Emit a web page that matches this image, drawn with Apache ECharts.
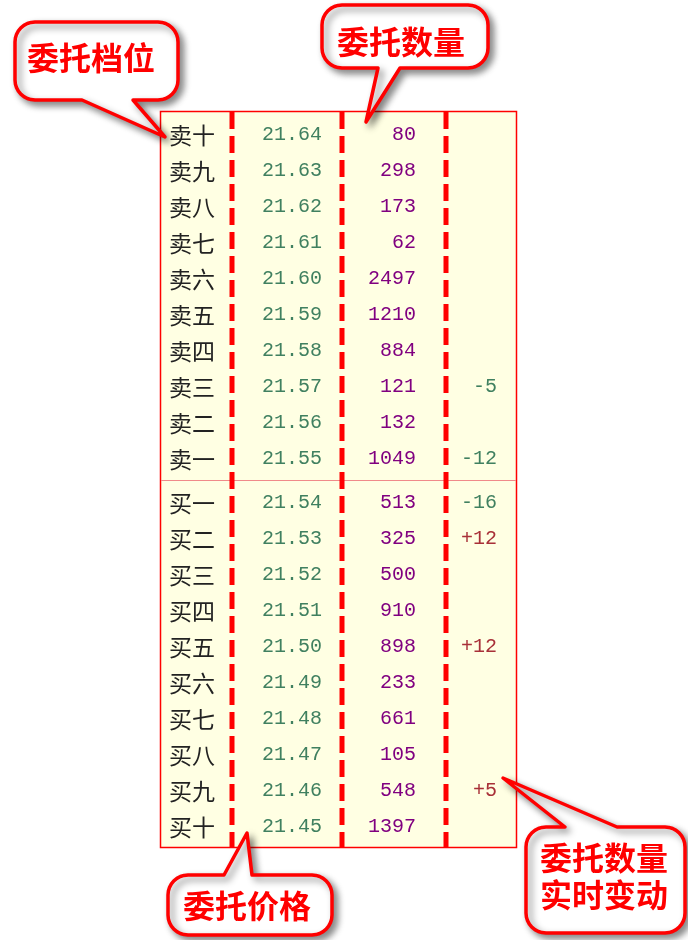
<!DOCTYPE html>
<html>
<head>
<meta charset="utf-8">
<script src="https://cdn.jsdelivr.net/npm/echarts@6/dist/echarts.min.js"></script>
<style>html,body{margin:0;padding:0;background:#fff}#c{width:688px;height:940px}</style>
</head>
<body>
<div id="c"></div>
<script>
const sellLevels = ['卖十','卖九','卖八','卖七','卖六','卖五','卖四','卖三','卖二','卖一'];
const sellPrices = [21.64,21.63,21.62,21.61,21.60,21.59,21.58,21.57,21.56,21.55];
const sellVolumes = [80,298,173,62,2497,1210,884,121,132,1049];
const sellChanges = [null,null,null,null,null,null,null,-5,null,-12];
const buyLevels = ['买一','买二','买三','买四','买五','买六','买七','买八','买九','买十'];
const buyPrices = [21.54,21.53,21.52,21.51,21.50,21.49,21.48,21.47,21.46,21.45];
const buyVolumes = [513,325,500,910,898,233,661,105,548,1397];
const buyChanges = [-16,12,null,null,12,null,null,null,5,null];
const callouts = ['委托档位','委托数量','委托价格','委托数量\n实时变动'];

const chart = echarts.init(document.getElementById('c'), null, {renderer:'canvas'});

const COL = {label:9, price:132, vol:256, chg:337};
const numFont = '20px "Liberation Mono", "DejaVu Sans Mono", monospace';
const cjkFont = '23px "Noto Sans CJK SC", sans-serif';

function fmtChg(v){ return v == null ? '' : (v > 0 ? '+' + v : String(v)); }

function makeRender(levels, prices, vols, chgs){
  return function(params, api){
    const i = params.dataIndex;
    const y = api.coord([0, i])[1] + 1;
    const px = x => api.coord([x, i])[0];
    const kids = [
      {type:'text', x:px(COL.label), y:y, style:{text:levels[i], fill:'#222', font:cjkFont, align:'left', verticalAlign:'middle'}},
      {type:'text', x:px(COL.price), y:y, style:{text:prices[i].toFixed(2), fill:'#408060', font:numFont, align:'center', verticalAlign:'middle'}},
      {type:'text', x:px(COL.vol), y:y, style:{text:String(vols[i]), fill:'#800080', font:numFont, align:'right', verticalAlign:'middle'}}
    ];
    const c = chgs[i];
    if (c != null) {
      kids.push({type:'text', x:px(COL.chg), y:y, style:{text:fmtChg(c), fill: c > 0 ? '#a83038' : '#408060', font:numFont, align:'right', verticalAlign:'middle'}});
    }
    return {type:'group', children:kids};
  };
}

function arc(pts, cx, cy, r, a0, a1){
  const n = 8;
  for (let k = 0; k <= n; k++) {
    const a = a0 + (a1 - a0) * k / n;
    pts.push([cx + r * Math.cos(a), cy + r * Math.sin(a)]);
  }
}
function bubble(x, y, w, h, r, side, b1, b2, tx, ty){
  const P = Math.PI, pts = [];
  arc(pts, x + r, y + r, r, P, 1.5 * P);
  if (side === 'top') { pts.push([b1, y], [tx, ty], [b2, y]); }
  arc(pts, x + w - r, y + r, r, 1.5 * P, 2 * P);
  arc(pts, x + w - r, y + h - r, r, 0, 0.5 * P);
  if (side === 'bottom') { pts.push([b2, y + h], [tx, ty], [b1, y + h]); }
  arc(pts, x + r, y + h - r, r, 0.5 * P, P);
  return {
    type:'polygon', z:100, shape:{points:pts},
    style:{fill:'#fff', stroke:'#ff0000', lineWidth:3.5, lineJoin:'round', shadowBlur:7, shadowOffsetX:4, shadowOffsetY:4, shadowColor:'rgba(0,0,0,0.45)'}
  };
}
function btext(t, cx, cy){
  return {type:'text', z:101, x:cx, y:cy, style:{text:t, fill:'#ff0000', font:'bold 32px "Noto Sans CJK SC", sans-serif', align:'center', verticalAlign:'middle', lineHeight:37}};
}

const dashX = [232, 342, 446];
const graphics = [
  {type:'rect', z:0, shape:{x:160.5, y:111.5, width:356, height:736}, style:{fill:'#ffffe3', stroke:'#ff0000', lineWidth:1.5}},
  {type:'line', z:1, shape:{x1:161, y1:480.5, x2:516, y2:480.5}, style:{stroke:'#f08a8a', lineWidth:1}}
];
dashX.forEach(x => graphics.push({type:'line', z:1, shape:{x1:x, y1:112, x2:x, y2:847}, style:{stroke:'#ff0000', lineWidth:5, lineDash:[17,7]}}));
graphics.push(bubble(15, 22, 163, 78, 20, 'bottom', 82, 133, 165, 137));
graphics.push(btext(callouts[0], 91, 58));
graphics.push(bubble(322, 5, 166, 63, 20, 'bottom', 378, 400, 366, 122));
graphics.push(btext(callouts[1], 401, 42));
graphics.push(bubble(168, 875, 164, 60, 20, 'top', 224, 252, 247, 833));
graphics.push(btext(callouts[2], 247, 906));
graphics.push(bubble(526, 827, 159, 106, 20, 'top', 565, 617, 503, 778));
graphics.push(btext(callouts[3], 604, 876));

const option = {
  backgroundColor:'#fff',
  animation:false,
  grid:[
    {left:160, top:116, width:357, height:360},
    {left:160, top:484, width:357, height:360}
  ],
  xAxis:[
    {gridIndex:0, type:'value', min:0, max:357, show:false},
    {gridIndex:1, type:'value', min:0, max:357, show:false}
  ],
  yAxis:[
    {gridIndex:0, type:'category', data:sellLevels, inverse:true, show:false},
    {gridIndex:1, type:'category', data:buyLevels, inverse:true, show:false}
  ],
  graphic:graphics,
  series:[
    {type:'custom', xAxisIndex:0, yAxisIndex:0, z:5, data:sellLevels.map((_, i) => [0, i]), renderItem:makeRender(sellLevels, sellPrices, sellVolumes, sellChanges)},
    {type:'custom', xAxisIndex:1, yAxisIndex:1, z:5, data:buyLevels.map((_, i) => [0, i]), renderItem:makeRender(buyLevels, buyPrices, buyVolumes, buyChanges)}
  ]
};
chart.setOption(option);
</script>
</body>
</html>
